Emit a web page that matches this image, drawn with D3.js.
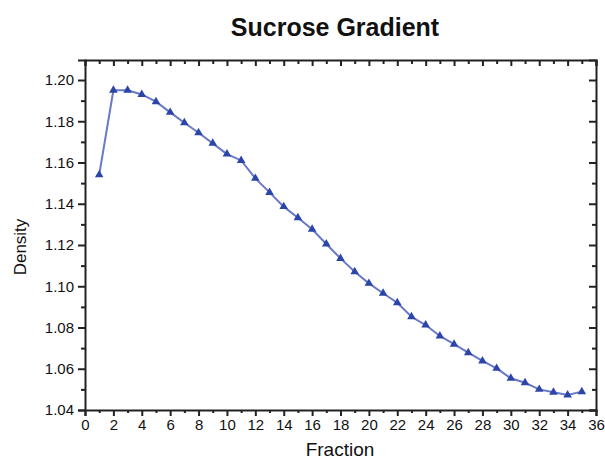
<!DOCTYPE html>
<html>
<head>
<meta charset="utf-8">
<script src="https://cdn.jsdelivr.net/npm/d3@7"></script>
<style>
  body { margin: 0; background: #fff; }
  text { font-family: "Liberation Sans", Arial, sans-serif; fill: #111; }
</style>
</head>
<body>
<div id="chart"></div>
<script>
// fractions and measured density
var fractions = [1, 2, 3, 4, 5, 6, 7, 8, 9, 10, 11, 12, 13, 14, 15, 16, 17, 18,
                 19, 20, 21, 22, 23, 24, 25, 26, 27, 28, 29, 30, 31, 32, 33, 34, 35];
var density = [1.154, 1.195, 1.195, 1.193, 1.1895, 1.1843, 1.1793, 1.1744, 1.1693, 1.1641,
               1.161, 1.1523, 1.1455, 1.1386, 1.1332, 1.1276, 1.1205, 1.1135, 1.107, 1.1014,
               1.0966, 1.092, 1.0852, 1.0812, 1.0759, 1.0719, 1.0678, 1.0638, 1.0602, 1.0554,
               1.0532, 1.05, 1.0486, 1.0473, 1.0489];
var xTicks = d3.range(0, 37, 2);
var yTicks = [1.04, 1.06, 1.08, 1.10, 1.12, 1.14, 1.16, 1.18, 1.20];

var width = 605, height = 461;
var margin = {top: 60, right: 9, bottom: 51, left: 85};

var svg = d3.select("#chart").append("svg")
    .attr("width", width)
    .attr("height", height);

var x = d3.scaleLinear().domain([0, 36]).range([margin.left, width - margin.right]);
var y = d3.scaleLinear().domain([1.04, 1.2097]).range([height - margin.bottom, margin.top]);

var axisColor = "#222";

// bottom axis, ticks outside
var xAxis = svg.append("g")
    .attr("transform", "translate(0," + y.range()[0] + ")")
    .call(d3.axisBottom(x).tickValues(xTicks).tickSize(6).tickPadding(3).tickFormat(d3.format("d")));
xAxis.selectAll(".tick text").style("font-size", "15px");
svg.append("g")
    .attr("transform", "translate(0," + y.range()[0] + ")")
    .call(d3.axisBottom(x).tickValues(d3.range(1, 36, 2)).tickSize(3).tickFormat(""))
    .select(".domain").remove();

// left axis, ticks outside
var yAxis = svg.append("g")
    .attr("transform", "translate(" + x.range()[0] + ",0)")
    .call(d3.axisLeft(y).tickValues(yTicks).tickSize(7).tickPadding(4).tickFormat(d3.format(".2f")));
yAxis.selectAll(".tick text").style("font-size", "15px");
svg.append("g")
    .attr("transform", "translate(" + x.range()[0] + ",0)")
    .call(d3.axisLeft(y).tickValues(d3.range(1.05, 1.20, 0.02)).tickSize(4).tickFormat(""))
    .select(".domain").remove();

// top mirror axis, ticks inside
svg.append("g")
    .attr("transform", "translate(0," + margin.top + ")")
    .call(d3.axisTop(x).tickValues(xTicks).tickSize(-6).tickFormat(""));
svg.append("g")
    .attr("transform", "translate(0," + margin.top + ")")
    .call(d3.axisTop(x).tickValues(d3.range(1, 36, 2)).tickSize(-4).tickFormat(""))
    .select(".domain").remove();

// right mirror axis, ticks inside
svg.append("g")
    .attr("transform", "translate(" + x.range()[1] + ",0)")
    .call(d3.axisRight(y).tickValues(yTicks).tickSize(-7).tickFormat(""));
svg.append("g")
    .attr("transform", "translate(" + x.range()[1] + ",0)")
    .call(d3.axisRight(y).tickValues(d3.range(1.05, 1.20, 0.02)).tickSize(-4).tickFormat(""))
    .select(".domain").remove();

svg.selectAll(".domain").attr("stroke", axisColor).attr("stroke-width", 2);
svg.selectAll(".tick line").attr("stroke", axisColor).attr("stroke-width", 2);

// data line
var pts = fractions.map(function(f, i) { return [f, density[i]]; });
var line = d3.line().x(function(d) { return x(d[0]); }).y(function(d) { return y(d[1]); });

svg.append("path")
    .datum(pts)
    .attr("fill", "none")
    .attr("stroke", "#6a78c8")
    .attr("stroke-width", 2)
    .attr("d", line);

var tri = d3.symbol().type(d3.symbolTriangle).size(32);
svg.selectAll("path.marker")
    .data(pts)
    .enter().append("path")
    .attr("class", "marker")
    .attr("transform", function(d) { return "translate(" + x(d[0]) + "," + y(d[1]) + ")"; })
    .attr("d", tri)
    .attr("fill", "#2b45a8");

// title and axis labels
svg.append("text")
    .attr("x", 335).attr("y", 36)
    .attr("text-anchor", "middle")
    .style("font-size", "25px")
    .style("font-weight", "bold")
    .text("Sucrose Gradient");

svg.append("text")
    .attr("x", 340).attr("y", 456)
    .attr("text-anchor", "middle")
    .style("font-size", "19px")
    .text("Fraction");

svg.append("text")
    .attr("transform", "translate(26,247) rotate(-90)")
    .attr("text-anchor", "middle")
    .style("font-size", "17px")
    .text("Density");
</script>
</body>
</html>
